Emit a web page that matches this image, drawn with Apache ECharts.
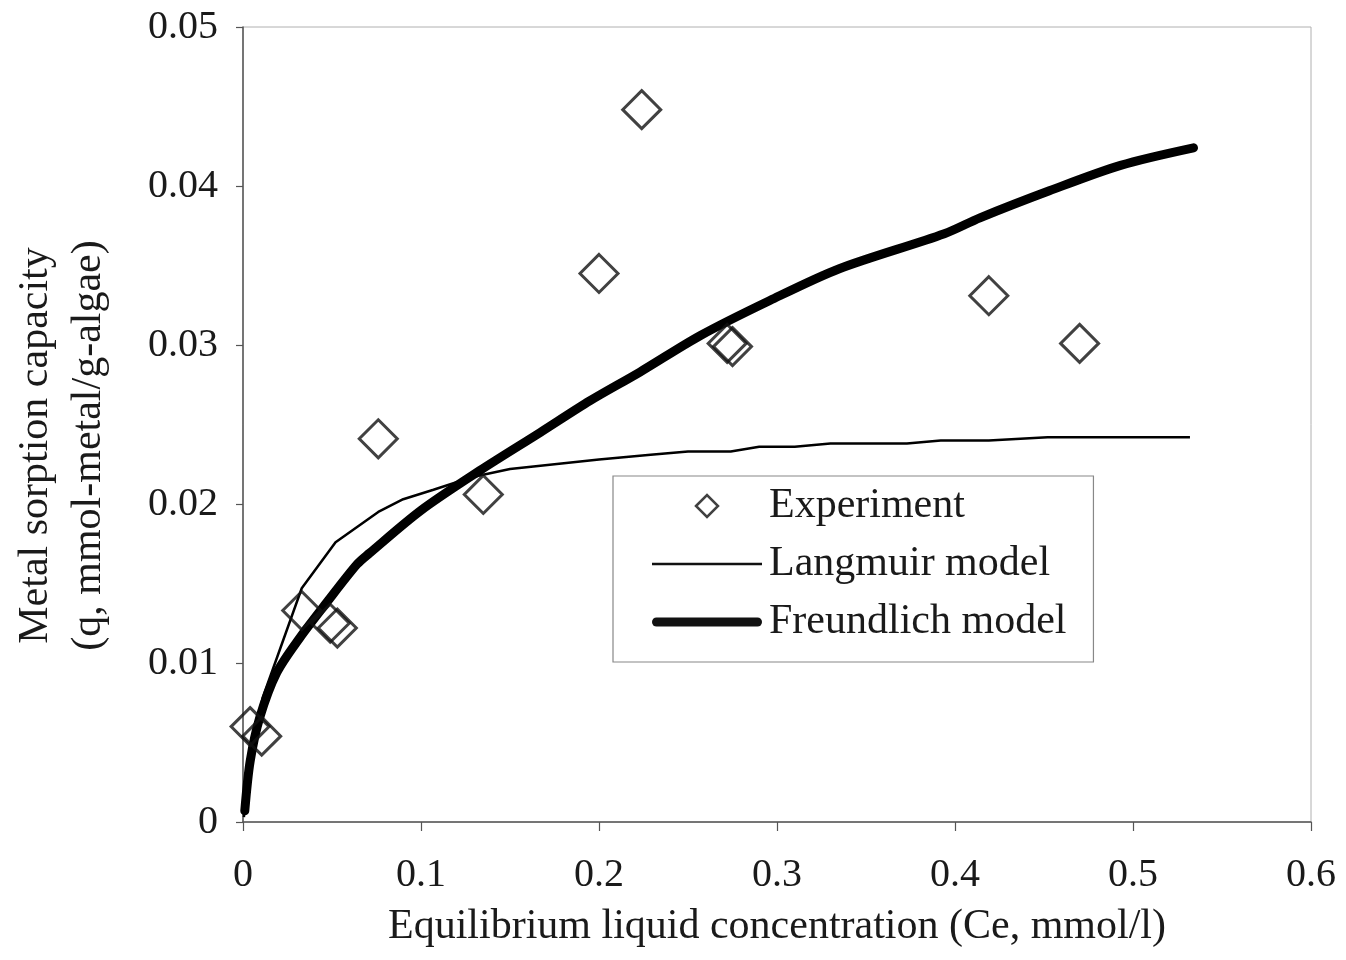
<!DOCTYPE html>
<html>
<head>
<meta charset="utf-8">
<script src="https://cdn.jsdelivr.net/npm/echarts@6/dist/echarts.min.js"></script>
<style>
html,body{margin:0;padding:0;background:#fff;}
#chart{width:1346px;height:960px;}
</style>
</head>
<body>
<div id="chart"></div>
<script>
// Experimental data [Ce, q]
const experiment = [
  [0.004, 0.0060], [0.0105, 0.0054], [0.033, 0.0133], [0.049, 0.0125],
  [0.053, 0.0122], [0.076, 0.0241], [0.135, 0.0206], [0.200, 0.0345],
  [0.224, 0.0448], [0.272, 0.0301], [0.275, 0.0299], [0.419, 0.0331],
  [0.470, 0.0301]
];
// Langmuir model curve
const langmuir = [
  [0.0005, 0.0003], [0.004, 0.0040], [0.011, 0.0078], [0.033, 0.0147],
  [0.052, 0.0176], [0.076, 0.0195], [0.090, 0.0203], [0.107, 0.0209],
  [0.129, 0.0217], [0.150, 0.0222], [0.200, 0.0228], [0.229, 0.0231],
  [0.250, 0.0233], [0.274, 0.0233], [0.290, 0.0236], [0.310, 0.0236],
  [0.330, 0.0238], [0.373, 0.0238], [0.392, 0.0240], [0.419, 0.0240],
  [0.452, 0.0242], [0.532, 0.0242]
];
// Freundlich model curve
const freundlich = [
  [0.001, 0.0007], [0.004, 0.0038], [0.0095, 0.0066], [0.019, 0.0094],
  [0.032, 0.0116], [0.047, 0.0138], [0.064, 0.0162], [0.071, 0.0169],
  [0.100, 0.0196], [0.133, 0.0221], [0.167, 0.0245], [0.195, 0.0265],
  [0.223, 0.0283], [0.257, 0.0306], [0.296, 0.0328], [0.335, 0.0348],
  [0.394, 0.0370], [0.414, 0.0380], [0.453, 0.0397], [0.493, 0.0413],
  [0.534, 0.0424]
];
const seriesNames = ['Experiment', 'Langmuir model', 'Freundlich model'];
const xTitle = 'Equilibrium liquid concentration (Ce, mmol/l)';
const yTitle = 'Metal sorption capacity\n(q, mmol-metal/g-algae)';

const FONT = '"Liberation Serif", "Times New Roman", serif';
const chart = echarts.init(document.getElementById('chart'), null, {renderer: 'canvas'});
chart.setOption({
  backgroundColor: '#fff',
  animation: false,
  grid: {
    left: 243, right: 35, top: 27, bottom: 138,
    outerBoundsMode: 'none', containLabel: false,
    show: true, borderColor: '#b0b0b0', borderWidth: 1
  },
  legend: {
    orient: 'vertical',
    left: 613, top: 476,
    padding: [8, 27, 18, 39],
    itemWidth: 110, itemHeight: 22, itemGap: 14,
    symbolKeepAspect: true,
    backgroundColor: '#fff',
    borderColor: '#888', borderWidth: 1.2, borderRadius: 0,
    textStyle: {fontFamily: FONT, fontSize: 42, color: '#1a1a1a', lineHeight: 44, padding: [0, 0, 0, 2]},
    data: [
      {name: seriesNames[0], icon: 'path://M0,11L11,0L22,11L11,22Z',
       itemStyle: {color: 'rgba(0,0,0,0)', borderColor: '#111', borderWidth: 2.5}},
      {name: seriesNames[1], icon: 'path://M0,0H110V2.5H0Z',
       itemStyle: {color: '#111', borderWidth: 0}},
      {name: seriesNames[2], icon: 'path://M4.5,0H105.5A4.5,4.5 0 0 1 105.5,9H4.5A4.5,4.5 0 0 1 4.5,0Z',
       itemStyle: {color: '#111', borderWidth: 0}}
    ]
  },
  xAxis: {
    type: 'value', min: 0, max: 0.6, interval: 0.1,
    name: xTitle, nameLocation: 'middle', nameGap: 84,
    nameTextStyle: {fontFamily: FONT, fontSize: 42, color: '#1a1a1a'},
    axisLine: {show: true, lineStyle: {color: '#555', width: 1.5}},
    axisTick: {show: true, inside: false, length: 9, lineStyle: {color: '#555', width: 1.2}},
    axisLabel: {fontFamily: FONT, fontSize: 40, color: '#1a1a1a', margin: 33},
    splitLine: {show: false}
  },
  yAxis: {
    type: 'value', min: 0, max: 0.05, interval: 0.01,
    name: yTitle, nameLocation: 'middle', nameGap: 128, nameRotate: 90,
    nameTextStyle: {fontFamily: FONT, fontSize: 42, color: '#1a1a1a', lineHeight: 53, padding: [0, 42, 0, 0]},
    axisLine: {show: true, lineStyle: {color: '#555', width: 1.5}},
    axisTick: {show: true, inside: false, length: 7, lineStyle: {color: '#555', width: 1.2}},
    axisLabel: {fontFamily: FONT, fontSize: 40, color: '#1a1a1a', margin: 25},
    splitLine: {show: false}
  },
  series: [
    {
      name: seriesNames[1], type: 'line', data: langmuir,
      symbol: 'none', smooth: false, z: 3,
      itemStyle: {color: '#111'},
      lineStyle: {color: '#000', width: 2.5}
    },
    {
      name: seriesNames[2], type: 'line', data: freundlich,
      symbol: 'none', smooth: 0.3, z: 4,
      itemStyle: {color: '#111'},
      lineStyle: {color: '#000', width: 9, cap: 'round', join: 'round'}
    },
    {
      name: seriesNames[0], type: 'scatter', data: experiment,
      symbol: 'diamond', symbolSize: 38, z: 5,
      itemStyle: {color: 'rgba(0,0,0,0)', borderColor: '#111', borderWidth: 3}
    }
  ]
});
</script>
</body>
</html>
